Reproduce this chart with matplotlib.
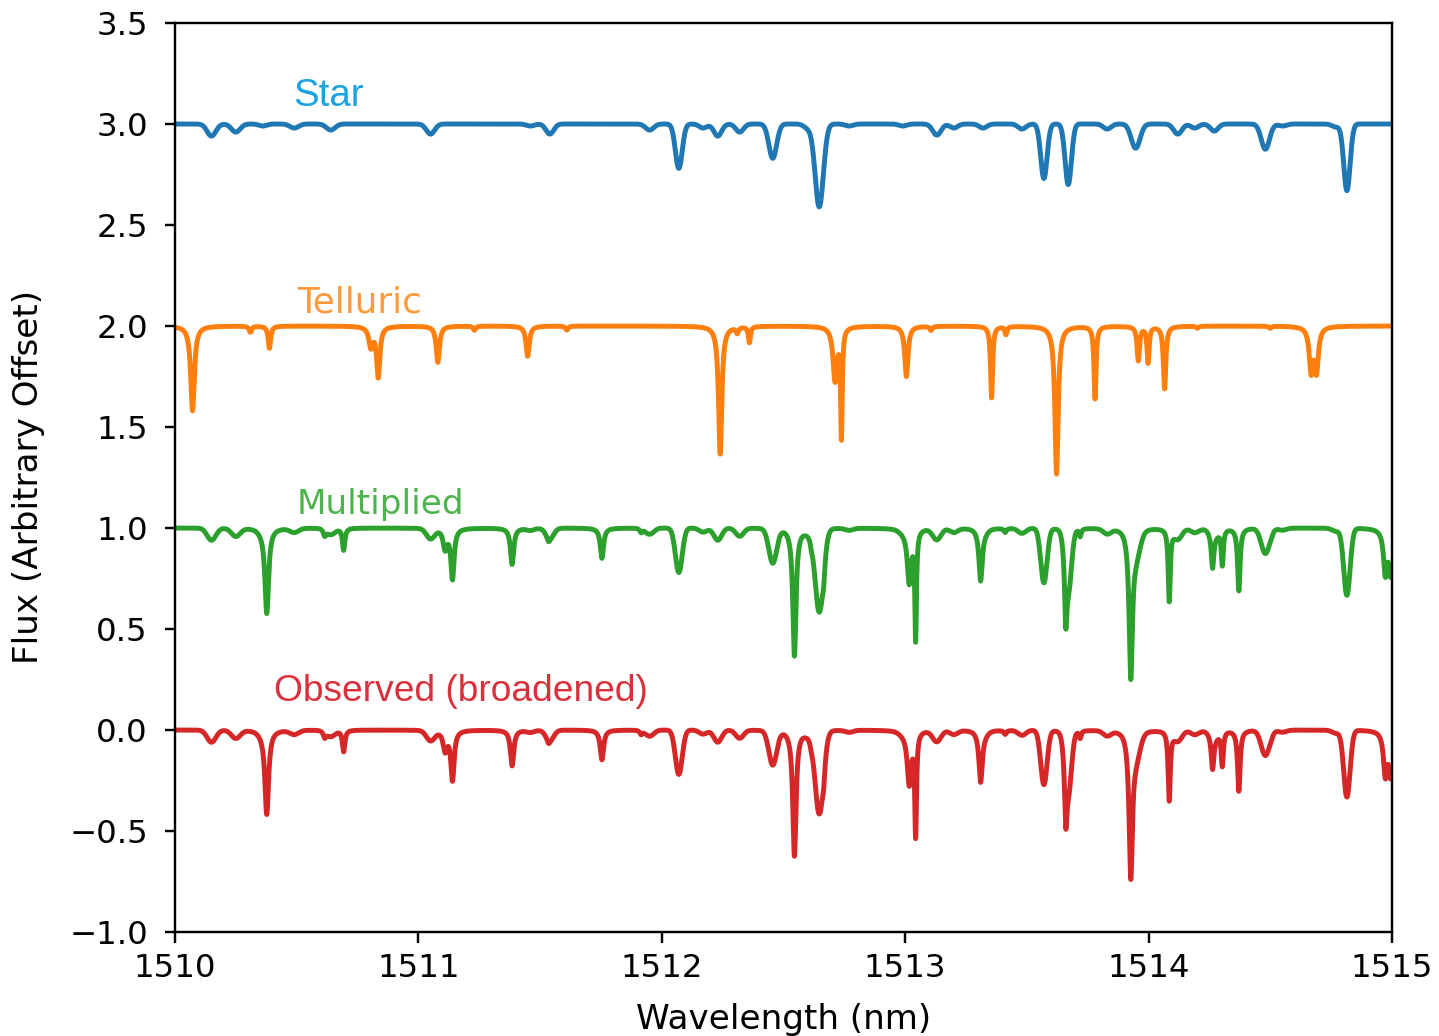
import matplotlib
matplotlib.use('Agg')
import matplotlib.pyplot as plt
import numpy as np

# Stellar absorption lines: centre (nm), depth, gaussian sigma (nm)
star_centers = [1510.15, 1510.25, 1510.36, 1510.49, 1510.64, 1511.05, 1511.46, 1511.54,
                1511.95, 1512.07, 1512.17, 1512.23, 1512.32, 1512.456, 1512.60, 1512.647,
                1512.77, 1512.99, 1513.13, 1513.20, 1513.32, 1513.48, 1513.57, 1513.67,
                1513.83, 1513.947, 1514.12, 1514.19, 1514.27, 1514.48, 1514.55, 1514.77,
                1514.815]
star_depths = [0.06, 0.04, 0.01, 0.02, 0.03, 0.05, 0.01, 0.05,
               0.03, 0.22, 0.02, 0.06, 0.04, 0.17, 0.02, 0.41,
               0.01, 0.01, 0.055, 0.02, 0.02, 0.025, 0.27, 0.30,
               0.025, 0.12, 0.05, 0.02, 0.035, 0.125, 0.01, 0.015,
               0.33]
star_widths = [0.018, 0.018, 0.016, 0.018, 0.018, 0.017, 0.016, 0.016,
               0.017, 0.014, 0.016, 0.016, 0.016, 0.016, 0.016, 0.017,
               0.016, 0.016, 0.017, 0.016, 0.016, 0.016, 0.013, 0.013,
               0.016, 0.018, 0.017, 0.016, 0.016, 0.017, 0.016, 0.016,
               0.013]

# Telluric lines: centre (nm), depth, lorentzian half-width (nm)
tell_centers = [1510.072, 1510.31, 1510.388, 1510.805, 1510.835, 1511.08, 1511.23, 1511.449,
                1511.61, 1512.24, 1512.31, 1512.36, 1512.712, 1512.738, 1513.005, 1513.106,
                1513.355, 1513.414, 1513.622, 1513.78, 1513.958, 1513.998, 1514.066, 1514.20,
                1514.50, 1514.668, 1514.69]
tell_depths = [0.42, 0.03, 0.11, 0.10, 0.25, 0.18, 0.02, 0.15,
               0.02, 0.634, 0.03, 0.08, 0.27, 0.55, 0.25, 0.02,
               0.355, 0.04, 0.733, 0.36, 0.17, 0.18, 0.31, 0.01,
               0.01, 0.22, 0.22]
tell_widths = [0.009, 0.006, 0.006, 0.010, 0.008, 0.008, 0.006, 0.008,
               0.006, 0.008, 0.006, 0.005, 0.010, 0.004, 0.008, 0.006,
               0.005, 0.005, 0.008, 0.005, 0.006, 0.005, 0.006, 0.006,
               0.006, 0.009, 0.009]

tell_shift = 0.305   # telluric shift relative to the star frame (nm)
offsets = [2.0, 1.0, 0.0, -1.0]
labels = ['Star', 'Telluric', 'Multiplied', 'Observed (broadened)']
label_x = [1510.485, 1510.50, 1510.50, 1510.405]
label_y = [3.14, 2.114, 1.114, 0.193]
label_colors = ['#1ba3e0', '#ff9a3c', '#4db34d', '#db2f3b']
label_fonts = ['Liberation Sans', 'DejaVu Sans', 'DejaVu Sans', 'Liberation Sans']
label_sizes = [12.8, 11.9, 11.4, 12.4]

plt.rcParams['font.size'] = 10.8
plt.rcParams['axes.labelsize'] = 11.4


def star_model(w):
    f = np.ones_like(w)
    for c, d, s in zip(star_centers, star_depths, star_widths):
        f -= d * np.exp(-0.5 * ((w - c) / s) ** 2)
    return f


def tell_model(w):
    f = np.ones_like(w)
    for c, d, g in zip(tell_centers, tell_depths, tell_widths):
        f *= 1 - d / (1 + ((w - c) / g) ** 2)
    return f


wave = np.linspace(1510, 1515, 10001)
star = star_model(wave)
tell = tell_model(wave)
mult = star * tell_model(wave - tell_shift)
kern = np.exp(-0.5 * (np.arange(-6, 7) / 2.0) ** 2)
kern /= kern.sum()
obs = np.convolve(np.pad(mult, 6, mode='edge'), kern, mode='same')[6:-6]

fig = plt.figure(figsize=(1439 / 216, 1036 / 216), dpi=216)
ax = fig.add_axes([0.1216, 0.1004, 0.8457, 0.8774])

for spec, off, col in zip([star, tell, mult, obs], offsets, ['C0', 'C1', 'C2', 'C3']):
    ax.plot(wave, spec + off, color=col, lw=1.65)

for lab, lx, ly, lc, lf, ls in zip(labels, label_x, label_y, label_colors, label_fonts, label_sizes):
    ax.text(lx, ly, lab, color=lc, fontsize=ls, family=lf, ha='left', va='center')

ax.set_xlim(1510, 1515)
ax.set_ylim(-1.0, 3.5)
ax.tick_params(axis='y', pad=5.5)
ax.set_xlabel('Wavelength (nm)', labelpad=6.5)
ax.set_ylabel('Flux (Arbitrary Offset)', labelpad=8)

fig.savefig('out.png', dpi=216)
